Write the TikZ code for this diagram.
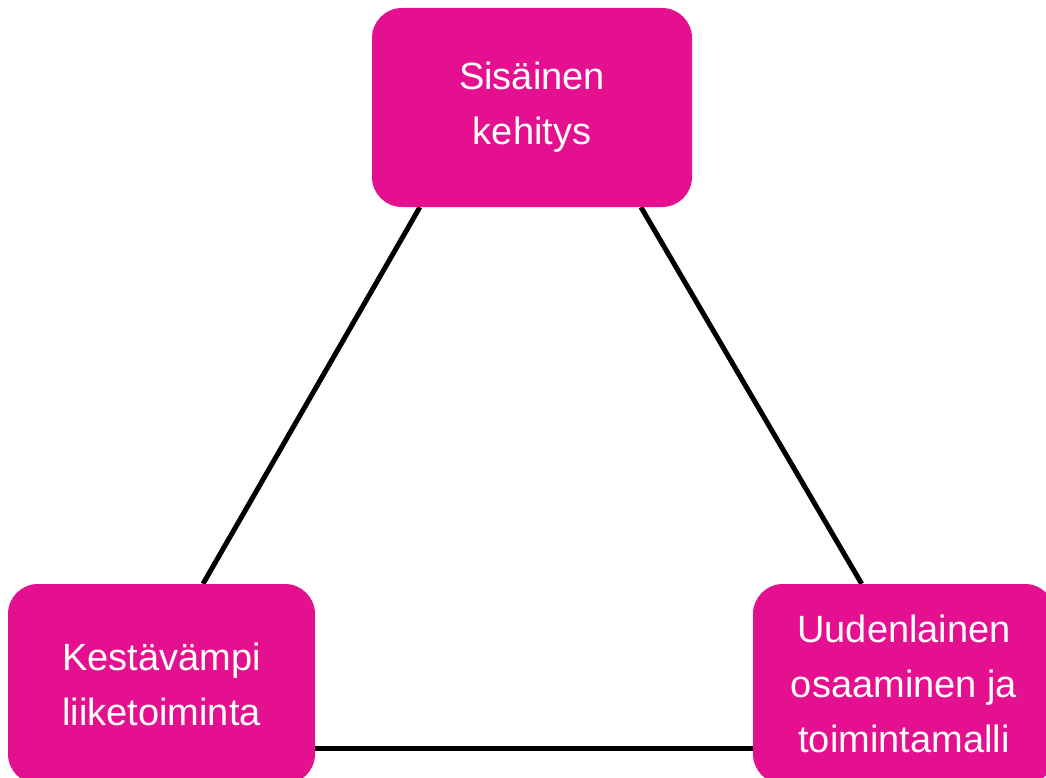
\documentclass[tikz,border=0pt]{standalone}
\usepackage{fontspec}
\setmainfont{Liberation Sans}
\usetikzlibrary{calc,backgrounds}
\definecolor{boxpink}{RGB}{229,16,143}
\tikzset{
  card/.style={fill=boxpink, draw=none, rounded corners=30pt, text=white,
    align=center, inner sep=0pt,
    font=\fontsize{38pt}{55pt}\selectfont},
  link/.style={line width=5pt, black}
}
\begin{document}
\begin{tikzpicture}[x=1pt,y=-1pt]
  \useasboundingbox (0,0) rectangle (1046,778);
  \clip (0,0) rectangle (1046,778);

  % the three cards
  \node[card, minimum width=320pt, minimum height=199pt] (inner) at (532,107.5)
    {Sisäinen\\kehitys};
  \node[card, minimum width=307pt, minimum height=200pt] (business) at (161.5,684)
    {\raisebox{7pt}{\parbox{300pt}{\centering Kestävämpi\\liiketoiminta}}};
  \node[card, minimum width=302pt, minimum height=200pt] (skills) at (904,684)
    {Uudenlainen\\osaaminen ja\\toimintamalli};

  % connectors behind the cards
  \begin{scope}[on background layer]
    \draw[link] ($(inner.south west)!0.15!(inner.south east)$)
      -- ($(business.north west)!0.635!(business.north east)$);
    \draw[link] ($(inner.south west)!0.84!(inner.south east)$)
      -- ($(skills.north west)!0.36!(skills.north east)$);
    \draw[link] (business.east |- 0,748) -- (skills.west |- 0,748);
  \end{scope}
\end{tikzpicture}
\end{document}
